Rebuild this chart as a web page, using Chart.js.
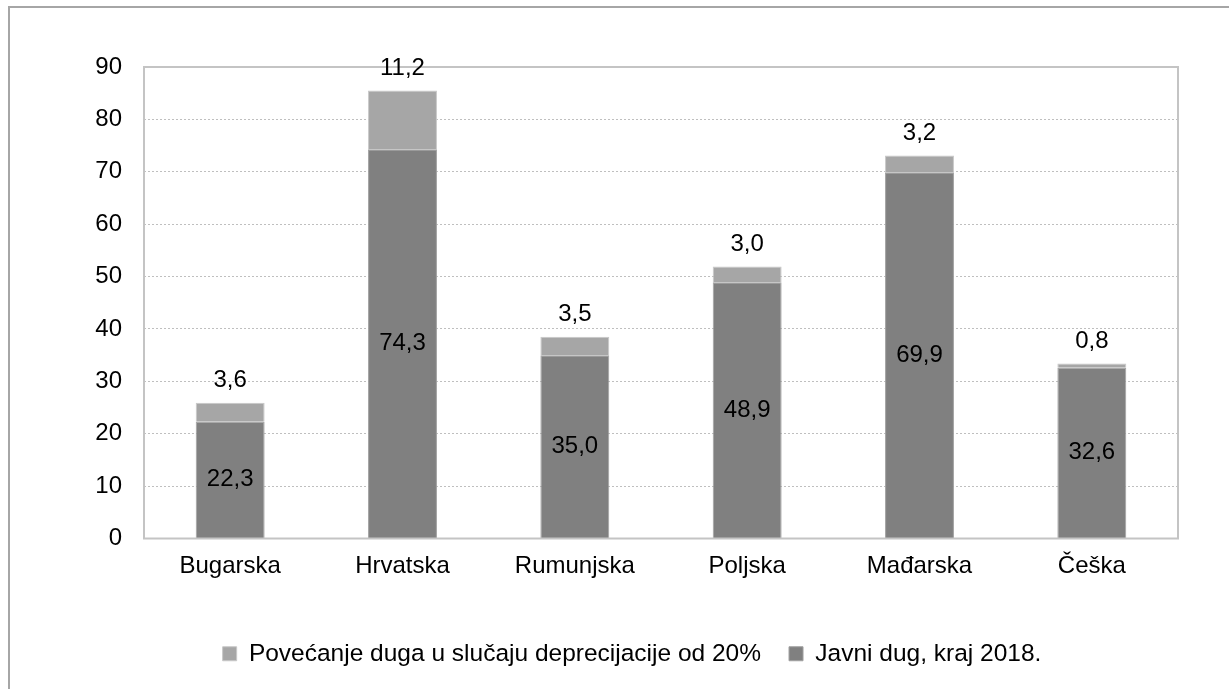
<!DOCTYPE html>
<html>
<head>
<meta charset="utf-8">
<script src="https://cdn.jsdelivr.net/npm/chart.js@4/dist/chart.umd.min.js"></script>
<style>
  html, body { margin: 0; padding: 0; background: #fff; }
  #wrap { width: 1229px; height: 689px; position: relative; }
</style>
</head>
<body>
<div id="wrap"><canvas id="chart"></canvas></div>
<script>
const categories = ['Bugarska', 'Hrvatska', 'Rumunjska', 'Poljska', 'Mađarska', 'Češka'];
const javniDug = [22.3, 74.3, 35.0, 48.9, 69.9, 32.6];
const povecanje = [3.6, 11.2, 3.5, 3.0, 3.2, 0.8];
const seriesNames = ['Javni dug, kraj 2018.', 'Povećanje duga u slučaju deprecijacije od 20%'];
const yTicks = [0, 10, 20, 30, 40, 50, 60, 70, 80, 90];

const FONT = 'Liberation Sans, Arial, sans-serif';
const fmt = v => v.toFixed(1).replace('.', ',');

// outer frame + plot frame
const frames = {
  id: 'frames',
  beforeDraw(chart) {
    const ctx = chart.ctx;
    ctx.save();
    ctx.strokeStyle = '#a6a6a6';
    ctx.lineWidth = 2;
    ctx.beginPath();
    ctx.moveTo(9, 689);
    ctx.lineTo(9, 7);
    ctx.lineTo(1229, 7);
    ctx.stroke();
    ctx.restore();
  },
  afterDatasetsDraw(chart) {
    const a = chart.chartArea;
    const ctx = chart.ctx;
    ctx.save();
    ctx.strokeStyle = '#c4c4c4';
    ctx.lineWidth = 2;
    ctx.strokeRect(a.left, a.top, a.right - a.left, a.bottom - a.top);
    ctx.restore();
  }
};

// value labels: bottom series in the middle, top series above the bar
const valueLabels = {
  id: 'valueLabels',
  afterDatasetsDraw(chart) {
    const ctx = chart.ctx;
    ctx.save();
    ctx.font = '24px ' + FONT;
    ctx.fillStyle = '#000';
    ctx.textAlign = 'center';
    ctx.textBaseline = 'middle';
    chart.getDatasetMeta(0).data.forEach((bar, i) => {
      ctx.fillText(fmt(javniDug[i]), bar.x, (bar.y + bar.base) / 2);
    });
    chart.getDatasetMeta(1).data.forEach((bar, i) => {
      ctx.fillText(fmt(povecanje[i]), bar.x, bar.y - 22);
    });
    ctx.restore();
  }
};

new Chart(document.getElementById('chart'), {
  type: 'bar',
  data: {
    labels: categories,
    datasets: [
      {
        label: seriesNames[0],
        data: javniDug,
        backgroundColor: '#808080',
        borderColor: '#a0a0a0',
        borderWidth: 1,
        stack: 's'
      },
      {
        label: seriesNames[1],
        data: povecanje,
        backgroundColor: '#a6a6a6',
        borderColor: '#c8c8c8',
        borderWidth: 1,
        stack: 's'
      }
    ]
  },
  options: {
    responsive: true,
    maintainAspectRatio: false,
    animation: false,
    datasets: { bar: { categoryPercentage: 1, barPercentage: 0.4 } },
    layout: { padding: { left: 60, right: 25, top: 67, bottom: 13 } },
    scales: {
      x: {
        stacked: true,
        grid: { display: false, drawTicks: false },
        border: { display: false },
        ticks: { color: '#000', font: { family: FONT, size: 24 }, padding: 13 },
        afterFit(scale) { scale.height = 75; }
      },
      y: {
        stacked: true,
        min: 0,
        max: 90,
        afterBuildTicks(scale) { scale.ticks = yTicks.map(v => ({ value: v })); },
        grid: { color: '#bfbfbf', lineWidth: 1, drawTicks: false },
        border: { display: false, dash: [2, 2] },
        ticks: { color: '#000', font: { family: FONT, size: 24 }, padding: 22 },
        afterFit(scale) { scale.width = 84; }
      },
      // empty right-hand spacer so the legend sits where it does in the original
      yRight: {
        position: 'right',
        grid: { display: false, drawTicks: false },
        border: { display: false },
        ticks: { display: false },
        afterFit(scale) { scale.width = 26; }
      }
    },
    plugins: {
      legend: {
        position: 'bottom',
        reverse: true,
        labels: {
          color: '#000',
          font: { family: FONT, size: 24.5 },
          boxWidth: 14,
          boxHeight: 14,
          padding: 28
        }
      },
      tooltip: { enabled: false }
    }
  },
  plugins: [frames, valueLabels]
});
</script>
</body>
</html>
